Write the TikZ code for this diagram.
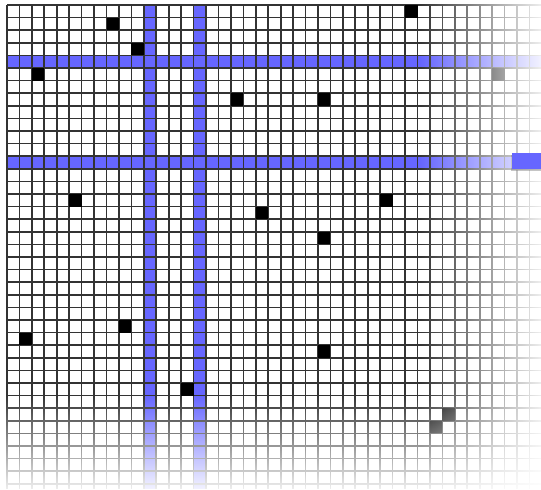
\documentclass[tikz,border=0pt]{standalone}
\usetikzlibrary{fadings,shadows}
\definecolor{bandblue}{RGB}{102,102,255}
\tikzfading[name=fadeeast, left color=transparent!100, right color=transparent!8]
\tikzfading[name=fadesouth, top color=transparent!100, bottom color=transparent!8]
\tikzset{
  gridline/.style={black!80, line width=1.7pt},
  band/.style={fill=bandblue},
  blackcell/.style={fill=black},
}
\begin{document}
\begin{tikzpicture}[x=12.44pt, y=-12.6pt]
  \useasboundingbox[fill=white] (-0.563,-0.397) rectangle (42.926,38.413);
  % blue rows and columns
  \fill[band] (0,4) rectangle (42.926,5);
  \fill[band] (0,12) rectangle (40.5,13);
  \fill[band] (11,0) rectangle (12,38.413);
  \fill[band] (15,0) rectangle (16,38.413);
  % grid
  \foreach \c in {0,...,42}
    \draw[gridline] (\c,0) -- (\c,38.413);
  \foreach \r in {0,...,38}
    \draw[gridline] (0,\r) -- (42.926,\r);
  % black cells
  \foreach \c/\r in {8/1,10/3,2/5,32/0,39/5,18/7,25/7,5/15,20/16,30/15,25/18,9/25,1/26,25/27,14/30,35/32,34/33}
    \fill[blackcell] (\c,\r) rectangle +(1,1);
  % fade out to the right and bottom
  \fill[white, path fading=fadeeast] (33.2,-0.397) rectangle (42.926,38.413);
  \fill[white, path fading=fadesouth] (-0.563,30.95) rectangle (42.926,38.413);
  \fill[band, drop shadow={shadow xshift=-1.5pt, shadow yshift=-2pt, opacity=.45}] (40.6,11.75) rectangle (43.2,13.0);
\end{tikzpicture}
\end{document}
